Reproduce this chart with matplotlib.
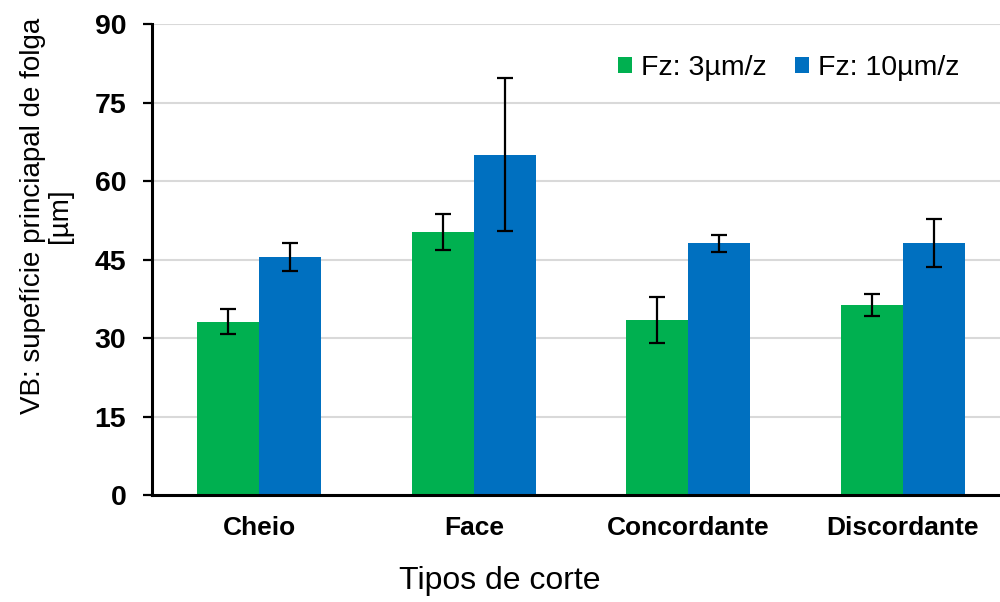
import matplotlib
matplotlib.use("Agg")
import matplotlib.pyplot as plt
import numpy as np

categories = ["Cheio", "Face", "Concordante", "Discordante"]
series_names = ["Fz: 3µm/z", "Fz: 10µm/z"]
vals_3 = [33.1, 50.3, 33.5, 36.4]
err_3 = [2.4, 3.5, 4.4, 2.1]
vals_10 = [45.5, 65.1, 48.1, 48.1]
err_10 = [2.6, 14.7, 1.6, 4.6]
yticks = [0, 15, 30, 45, 60, 75, 90]

plt.rcParams['font.family'] = ['Liberation Sans', 'DejaVu Sans']

fig = plt.figure(figsize=(10, 6.02), dpi=100)
ax = fig.add_axes([0.152, 0.1777, 0.858, 0.782])

x = np.arange(len(categories))
w = 0.289
green = "#00B050"
blue = "#0070C0"
ekw = dict(elinewidth=1.6, capthick=1.6, ecolor="black")
ax.bar(x - w/2, vals_3, w, color=green, label=series_names[0], zorder=2,
       yerr=err_3, capsize=5.5, error_kw=ekw)
ax.bar(x + w/2, vals_10, w, color=blue, label=series_names[1], zorder=2,
       yerr=err_10, capsize=5.5, error_kw=ekw)

ax.set_xlim(-0.5, len(categories) - 0.5)
ax.set_ylim(0, 90)
ax.set_yticks(yticks)
ax.set_xticks(x)
ax.set_xticklabels(categories, fontsize=19, fontweight='bold')
for lbl in ax.get_yticklabels():
    lbl.set_fontsize(20.5)
    lbl.set_fontweight('bold')

ax.yaxis.grid(True, color="#d9d9d9", linewidth=1.5, zorder=0)
ax.set_axisbelow(True)
for s in ['top', 'right']:
    ax.spines[s].set_visible(False)
for s in ['left', 'bottom']:
    ax.spines[s].set_linewidth(2.2)
    ax.spines[s].set_color('black')
    ax.spines[s].set_zorder(3)
ax.tick_params(axis='y', length=6.5, width=1.6, direction='out', pad=12)
ax.tick_params(axis='x', length=0, pad=15)

ax.set_xlabel("Tipos de corte", fontsize=23)
ax.xaxis.set_label_coords(0.4056, -0.150)
ax.set_ylabel("VB: supefície princiapal de folga\n[µm]", fontsize=20, linespacing=1.05)
ax.yaxis.set_label_coords(-0.1224, 0.594)
ax.yaxis.label.set_va('center')

ax.legend(loc='upper left', bbox_to_anchor=(0.618, 0.908), bbox_transform=fig.transFigure,
          frameon=False, ncol=2, fontsize=20.5, handlelength=0.5, handleheight=0.5,
          handletextpad=0.3, columnspacing=1.0, borderpad=0, borderaxespad=0)

fig.savefig("out.png", dpi=100)
